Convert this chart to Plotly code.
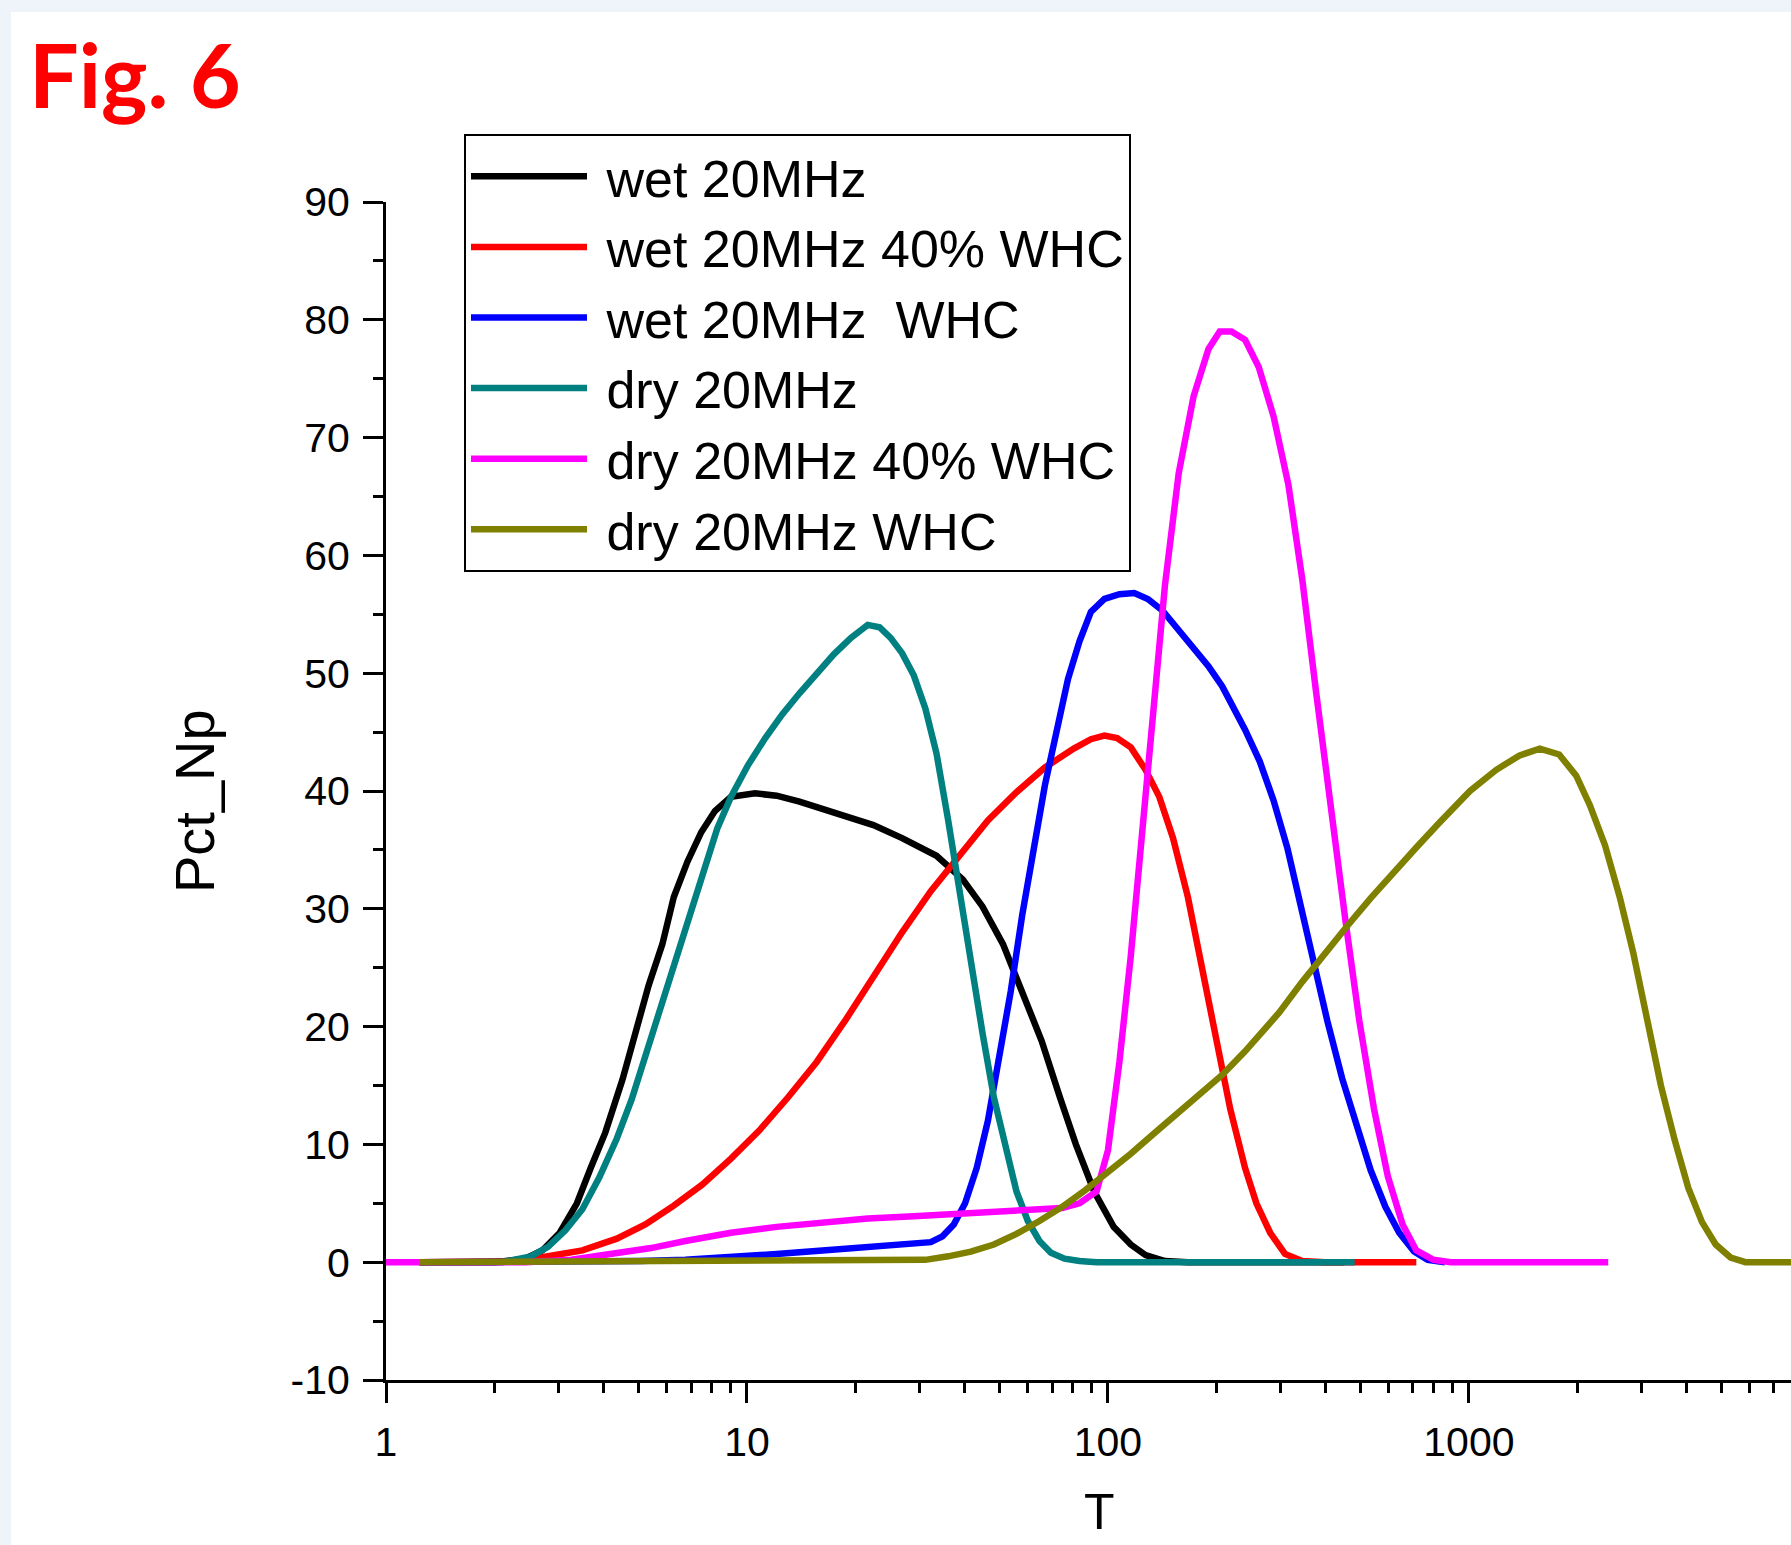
import plotly.graph_objects as go

# ---------------- data ----------------
wet_t = [1.24, 2.00, 2.43, 2.71, 3.03, 3.38, 3.69, 4.05, 4.52, 4.93, 5.34, 5.83, 6.27, 6.84,
         7.47, 8.15, 9.03, 10.52, 12.08, 13.98, 16.18, 18.7, 22.4, 26.9, 33.5, 39.6, 44.9,
         51.2, 57.9, 65.5, 73.6, 81.5, 91.6, 103.7, 115.7, 127.1, 143.9, 166.5, 450]
wet_y = [0, 0, 0.3, 1.0, 2.5, 5.0, 8.0, 11.0, 15.5, 19.5, 23.5, 27.0, 31.0, 34.0,
         36.5, 38.3, 39.5, 39.8, 39.6, 39.1, 38.5, 37.9, 37.1, 36.0, 34.5, 32.5, 30.2,
         27.0, 23.0, 18.8, 14.0, 10.0, 6.0, 3.0, 1.5, 0.6, 0.1, 0, 0]

wet40_t = [1.24, 2.00, 2.34, 2.81, 3.50, 4.36, 5.23, 6.27, 7.53, 9.03, 10.83, 13.0, 15.6,
           18.7, 22.4, 26.9, 32.3, 38.8, 46.5, 55.8, 66.9, 80.4, 89.7, 97.8, 106, 115.7,
           127.1, 138.8, 151.5, 166.5, 181.7, 199.8, 218.2, 239.8, 257.8, 281.5, 309.4,
           345.3, 399.4, 715]
wet40_y = [0, 0, 0.1, 0.5, 1.0, 2.0, 3.2, 4.8, 6.6, 8.8, 11.2, 14.0, 17.0,
           20.5, 24.3, 28.0, 31.5, 34.6, 37.5, 39.9, 42.0, 43.6, 44.4, 44.7, 44.5, 43.7,
           41.8, 39.5, 36.0, 31.0, 25.0, 19.0, 13.0, 8.0, 5.0, 2.5, 0.7,
           0.1, 0, 0]

wetwhc_t = [1.24, 3.26, 5.04, 6.75, 9.03, 12.08, 16.18, 21.6, 29.0, 32.3, 34.8, 37.4, 40.2,
            43.3, 46.5, 50.0, 53.8, 57.9, 62.3, 66.9, 72.0, 77.5, 83.4, 89.7, 97.8, 107.6,
            118.3, 129, 141.8, 154.8, 172.7, 189.8, 207.2, 222.9, 239.8, 263.5, 287.6,
            313.9, 340.2, 371.4, 405.2, 445.5, 489.9, 534.5, 587, 641, 705, 769, 858]
wetwhc_y = [0, 0, 0.1, 0.2, 0.4, 0.7, 1.0, 1.3, 1.5, 1.7, 2.2, 3.2, 5.0,
            8.0, 12.0, 17.5, 23.0, 29.5, 35.0, 40.5, 45.0, 49.5, 52.7, 55.2, 56.3, 56.7,
            56.8, 56.3, 55.3, 53.9, 52.2, 50.6, 48.9, 47.1, 45.2, 42.5, 39.2,
            35.2, 30.5, 25.8, 20.5, 15.6, 11.3, 7.8, 4.7, 2.5, 0.9, 0.2, 0]

dry_t = [1.24, 2.10, 2.52, 2.81, 3.14, 3.50, 3.90, 4.36, 4.79, 5.23, 5.75, 6.27, 6.90, 7.53,
         8.27, 9.03, 10.07, 11.24, 12.52, 13.98, 15.6, 17.4, 19.4, 21.6, 23.3, 25.0, 26.9,
         29.0, 31.2, 33.5, 36.1, 38.8, 41.7, 44.9, 48.3, 51.9, 55.8, 60.0, 64.6, 69.5,
         75.8, 83.4, 93.0, 482.6]
dry_y = [0, 0, 0.5, 1.3, 2.7, 4.5, 7.2, 10.5, 13.8, 17.5, 21.5, 25.5, 29.5, 33.2,
         36.8, 39.5, 42.2, 44.5, 46.5, 48.3, 50.0, 51.6, 53.0, 54.1, 53.9, 53.0, 51.7,
         49.8, 47.0, 43.2, 37.5, 31.5, 25.0, 19.5, 14.0, 9.8, 6.0, 3.5, 1.8, 0.8,
         0.3, 0.1, 0, 0]

dry40_t = [1.0, 2.43, 3.26, 4.36, 5.42, 6.75, 9.03, 12.08, 16.18, 21.6, 29.0, 41.7, 60.0,
           74.7, 83.4, 93.0, 100, 107.6, 115.7, 124.5, 133.9, 143.9, 157.1, 172.7, 189.8,
           204, 219.8, 239.8, 261.6, 287.6, 316.2, 345.3, 376.9, 414, 455, 497, 546, 596,
           655, 715, 798, 890, 2432]
dry40_y = [0, 0, 0.2, 0.7, 1.2, 1.8, 2.5, 3.0, 3.4, 3.7, 3.9, 4.2, 4.4,
           4.6, 5.0, 6.0, 9.5, 17.0, 26.0, 37.0, 47.5, 57.5, 67.0, 73.5, 77.5,
           79.0, 79.0, 78.3, 76.0, 71.8, 66.0, 58.0, 48.5, 38.5, 29.0, 20.5, 13.0, 7.3,
           3.2, 1.0, 0.2, 0, 0]

drywhc_t = [1.24, 26.9, 31.2, 36.1, 41.7, 48.3, 55.8, 64.6, 74.7, 86.4, 100, 115.7, 133.9,
            154.8, 179, 207.2, 239.8, 298.3, 345.3, 399.4, 462, 534.5, 618, 715, 828,
            1007, 1191, 1378, 1571, 1778, 1983, 2163, 2382, 2617, 2856, 3118, 3403, 3714,
            4053, 4424, 4828, 5309, 5838, 7803]
drywhc_y = [0, 0.1, 0.2, 0.5, 0.9, 1.5, 2.4, 3.5, 4.7, 6.1, 7.6, 9.2, 10.9,
            12.6, 14.3, 15.9, 17.9, 21.2, 23.8, 26.3, 28.6, 30.9, 33.1, 35.2, 37.3,
            40.0, 41.8, 43.0, 43.6, 43.1, 41.3, 38.8, 35.4, 31.0, 26.2, 20.4, 15.0, 10.4,
            6.3, 3.4, 1.5, 0.4, 0, 0]

series = [
    ("wet 20MHz", wet_t, wet_y, "#000000"),
    ("wet 20MHz 40% WHC", wet40_t, wet40_y, "#ff0000"),
    ("wet 20MHz  WHC", wetwhc_t, wetwhc_y, "#0000ff"),
    ("dry 20MHz", dry_t, dry_y, "#008080"),
    ("dry 20MHz 40% WHC", dry40_t, dry40_y, "#ff00ff"),
    ("dry 20MHz WHC", drywhc_t, drywhc_y, "#808000"),
]

x_major = [1, 10, 100, 1000]
x_minor = [m * d for d in (1, 10, 100, 1000) for m in range(2, 10)]
y_major = list(range(-10, 91, 10))

x_title = "T"
y_title = "Pct_Np"

# ---------------- figure ----------------
W, H = 1791, 1545
L, R, T, B = 386, 0, 202, 165
pw, ph = W - L - R, H - T - B

def px(xp):
    return (xp - L) / pw

def py(yp):
    return (H - B - yp) / ph

FONT = "Liberation Sans, Arial, sans-serif"
EDGE = "#eff4fb"

fig = go.Figure()
for name, t, y, c in series:
    fig.add_trace(go.Scatter(x=t, y=y, mode="lines", name="\u00a0" + name,
                             line=dict(color=c, width=6.5)))

fig.update_layout(
    width=W, height=H,
    margin=dict(l=L, r=R, t=T, b=B),
    paper_bgcolor="white",
    plot_bgcolor="white",
    font=dict(family=FONT, color="black"),
    showlegend=True,
    legend=dict(
        x=px(464), y=py(134), xanchor="left", yanchor="top",
        bgcolor="white", bordercolor="black", borderwidth=2,
        font=dict(family=FONT, size=52, color="black"),
        itemwidth=116, tracegroupgap=0,
    ),
    shapes=[
        dict(type="rect", xref="paper", yref="paper", layer="below",
             x0=px(-10), x1=px(W + 10), y0=py(12), y1=py(-10),
             fillcolor=EDGE, line=dict(width=0)),
        dict(type="rect", xref="paper", yref="paper", layer="below",
             x0=px(-10), x1=px(11), y0=py(H + 10), y1=py(-10),
             fillcolor=EDGE, line=dict(width=0)),
    ],
    annotations=[
        dict(text="<b>Fig. 6</b>", xref="paper", yref="paper",
             x=px(27), y=py(74), xanchor="left", yanchor="middle", showarrow=False,
             font=dict(family="Lato, Carlito, sans-serif", size=88, color="#ff0000")),
        dict(text=x_title, xref="paper", yref="paper",
             x=px(1099), y=py(1512), xanchor="center", yanchor="middle", showarrow=False,
             font=dict(family=FONT, size=50, color="black")),
        dict(text=y_title, xref="paper", yref="paper", textangle=-90,
             x=px(194), y=py(801), xanchor="center", yanchor="middle", showarrow=False,
             font=dict(family=FONT, size=56, color="black")),
    ],
)

fig.update_xaxes(
    type="log", range=[0, 3.8923], automargin=False,
    showline=True, linecolor="black", linewidth=3,
    showgrid=False, zeroline=False,
    tickmode="array", tickvals=x_major, ticktext=[str(v) for v in x_major],
    ticks="outside", ticklen=20, tickwidth=3, tickcolor="black",
    tickfont=dict(family=FONT, size=41, color="black"),
    ticklabelstandoff=4,
    minor=dict(tickmode="array", tickvals=x_minor, ticks="outside",
               ticklen=10, tickwidth=3, tickcolor="black", showgrid=False),
)
fig.update_yaxes(
    range=[-10, 90], automargin=False,
    showline=True, linecolor="black", linewidth=3,
    showgrid=False, zeroline=False,
    tickmode="array", tickvals=y_major, ticktext=[str(v) for v in y_major],
    ticks="outside", ticklen=20, tickwidth=3, tickcolor="black",
    tickfont=dict(family=FONT, size=41, color="black"),
    ticklabelstandoff=5,
    minor=dict(dtick=5, tick0=-5, ticks="outside", ticklen=10, tickwidth=3,
               tickcolor="black", showgrid=False),
)

fig.write_html(
    "out.html",
    config={"displayModeBar": False},
    post_script="document.body.style.margin='0';document.body.style.overflow='hidden';",
)
